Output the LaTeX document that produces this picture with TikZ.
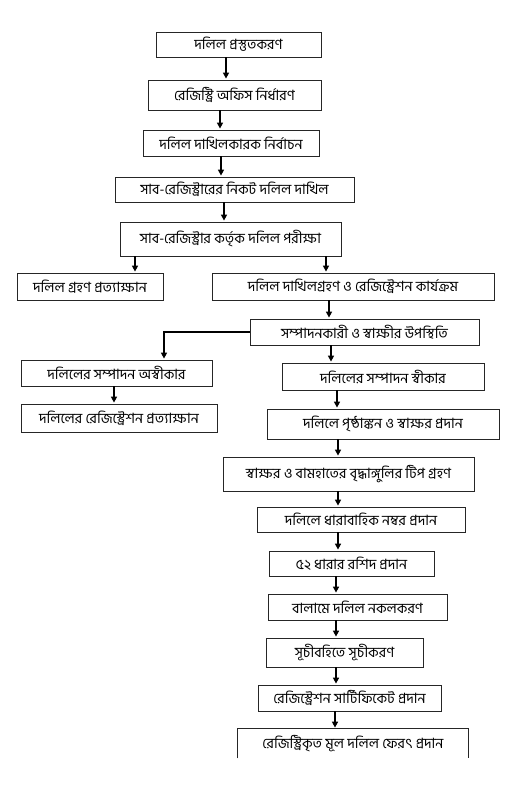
\documentclass[tikz,border=0pt]{standalone}
\usepackage{fontspec}
\newfontfamily\bn[Script=Bengali]{Hind Siliguri}
\usetikzlibrary{arrows.meta}
\tikzset{
  box/.style={draw=black!85, line width=0.8pt, inner sep=0pt, align=center, font=\bn\fontsize{14.2}{16}\selectfont},
  arr/.style={line width=1.8pt, -{Triangle[length=6pt,width=6pt]}, shorten >=1pt},
  elbow/.style={line width=2.6pt, -{Triangle[length=6pt,width=6pt]}, shorten >=1pt}
}
\newcommand\bx[6]{\node[box, minimum width=#4pt, minimum height=#5pt] (#1) at (#2,-#3) {#6};}
\newcommand\arrow[3]{\coordinate (ax) at (#3,0); \draw[arr] (#1.south -| ax) -- (#2.north -| ax);}
\begin{document}
\begin{tikzpicture}[x=1pt,y=1pt]
\useasboundingbox[fill=white] (0,0) rectangle (505,-810);
\bx{b1}{238.5}{44.5}{165}{25}{দলিল প্রস্তুতকরণ}
\bx{b2}{234.5}{95}{173}{30}{রেজিস্ট্রি অফিস নির্ধারণ}
\bx{b3}{231}{143}{176}{26}{দলিল দাখিলকারক নির্বাচন}
\bx{b4}{234.5}{189.5}{239}{25}{সাব-রেজিস্ট্রারের নিকট দলিল দাখিল}
\bx{b5}{230.5}{239}{221}{34}{সাব-রেজিস্ট্রার কর্তৃক দলিল পরীক্ষা}
\bx{b6}{90}{286.5}{146}{27}{দলিল গ্রহণ প্রত্যাক্ষান}
\bx{b7}{353}{286.5}{282}{27}{দলিল দাখিলগ্রহণ ও রেজিস্ট্রেশন কার্যক্রম}
\bx{b8}{364.5}{332}{229}{26}{সম্পাদনকারী ও স্বাক্ষীর উপস্থিতি}
\bx{b9}{116.5}{373}{191}{26}{দলিলের সম্পাদন অস্বীকার}
\bx{b10}{119}{418}{196}{28}{দলিলের রেজিস্ট্রেশন প্রত্যাক্ষান}
\bx{b11}{383}{376.5}{202}{27}{দলিলের সম্পাদন স্বীকার}
\bx{b12}{383}{424}{232}{30}{দলিলে পৃষ্ঠাঙ্কন ও স্বাক্ষর প্রদান}
\bx{b13}{348.5}{474}{251}{34}{স্বাক্ষর ও বামহাতের বৃদ্ধাঙ্গুলির টিপ গ্রহণ}
\bx{b14}{361}{519.5}{208}{25}{দলিলে ধারাবাহিক নম্বর প্রদান}
\bx{b15}{351.5}{563.5}{165}{25}{৫২ ধারার রশিদ প্রদান}
\bx{b16}{357.5}{607}{179}{26}{বালামে দলিল নকলকরণ}
\bx{b17}{344.5}{652.5}{157}{29}{সূচীবহিতে সূচীকরণ}
\bx{b18}{349.5}{698}{183}{26}{রেজিস্ট্রেশন সার্টিফিকেট প্রদান}
\node[box, draw=none, minimum width=230pt, minimum height=29pt] (b19) at (353,-743.5) {রেজিস্ট্রিকৃত মূল দলিল ফেরৎ প্রদান};
\draw[black!85, line width=0.8pt] (b19.south west) -- (b19.north west) -- (b19.north east) -- (b19.south east);
\arrow{b1}{b2}{226}
\arrow{b2}{b3}{220}
\arrow{b3}{b4}{221}
\arrow{b4}{b5}{224}
\arrow{b5}{b6}{135}
\arrow{b5}{b7}{326}
\arrow{b7}{b8}{329}
\coordinate (ex) at (164,0);
\draw[elbow] (b8.west) -| (b9.north -| ex);
\arrow{b9}{b10}{114}
\arrow{b8}{b11}{331}
\arrow{b11}{b12}{337}
\arrow{b12}{b13}{338}
\arrow{b13}{b14}{338}
\arrow{b14}{b15}{338}
\arrow{b15}{b16}{336}
\arrow{b16}{b17}{336}
\arrow{b17}{b18}{336}
\arrow{b18}{b19}{335}
\end{tikzpicture}
\end{document}
